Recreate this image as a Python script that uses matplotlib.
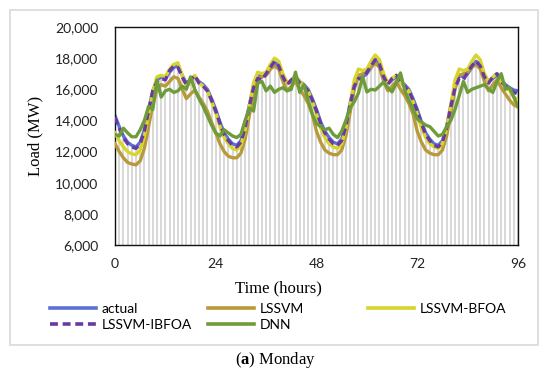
import matplotlib
matplotlib.use("Agg")
import matplotlib.pyplot as plt
from matplotlib.lines import Line2D
from matplotlib.patches import Rectangle
from matplotlib.ticker import FuncFormatter

plt.rcParams["mathtext.fontset"] = "custom"
plt.rcParams["mathtext.rm"] = "Liberation Serif"
plt.rcParams["mathtext.bf"] = "Liberation Serif:bold"

# hourly load (MW), 4 days, hours 0..96
hours = list(range(97))

actual = [
    14300, 13600, 13000, 12600, 12400, 12300, 12600, 13400, 14700, 15900, 16600, 16800,
    16700, 17100, 17400, 17500, 16900, 16400, 16600, 16800, 16500, 16300, 16000, 15400,
    14700, 13900, 13200, 12800, 12500, 12400, 12700, 13600, 15000, 16200, 16900, 16800,
    16900, 17300, 17700, 17600, 16900, 16400, 16500, 16800, 16500, 16300, 16000, 15400,
    14700, 13900, 13300, 12900, 12600, 12500, 12800, 13700, 15100, 16300, 16900, 16800,
    17000, 17400, 17800, 17700, 16900, 16400, 16600, 16800, 16500, 16300, 16000, 15400,
    14700, 13900, 13200, 12800, 12500, 12400, 12700, 13600, 15000, 16200, 16900, 16800,
    17000, 17400, 17800, 17600, 16900, 16500, 16700, 16900, 16600, 16300, 16100, 15950,
    15900,
]
lssvm = [
    12500, 12000, 11600, 11300, 11200, 11150, 11400, 12200, 13600, 15000, 16000, 16300,
    16200, 16500, 16800, 16700, 16000, 15400, 15700, 15950, 15500, 15100, 14600, 13900,
    13200, 12500, 12000, 11700, 11600, 11600, 11900, 12800, 14300, 15800, 16700, 16800,
    16900, 17300, 17500, 17300, 16500, 15900, 16200, 16500, 16000, 15600, 15100, 14400,
    13300, 12600, 12100, 11900, 11800, 11800, 12100, 13000, 14500, 16000, 16900, 17000,
    17100, 17400, 17700, 17400, 16500, 15900, 16200, 16500, 16000, 15600, 15100, 14400,
    13300, 12600, 12100, 11900, 11800, 11800, 12100, 13000, 14500, 16000, 16900, 17000,
    17100, 17400, 17600, 17300, 16500, 15900, 16300, 16600, 16100, 15700, 15300, 15000,
    14850,
]
lssvm_bfoa = [
    13200, 12700, 12300, 12000, 11850, 11800, 12100, 13000, 14400, 15800, 16800, 16900,
    16800, 17300, 17600, 17700, 16900, 16200, 16400, 16900, 16400, 16200, 15900, 15200,
    14500, 13600, 12900, 12500, 12200, 12100, 12400, 13400, 14900, 16400, 17100, 17000,
    17100, 17600, 18000, 17800, 17000, 16400, 16600, 16900, 16500, 16200, 15900, 15200,
    14400, 13500, 12900, 12500, 12300, 12200, 12500, 13500, 15000, 16600, 17300, 17200,
    17300, 17800, 18200, 17900, 17000, 16400, 16700, 16900, 16500, 16200, 15900, 15200,
    14400, 13500, 12900, 12500, 12300, 12200, 12500, 13500, 15000, 16600, 17300, 17200,
    17300, 17800, 18200, 17900, 17000, 16500, 16800, 17000, 16500, 16200, 15900, 15500,
    15300,
]
lssvm_ibfoa = [
    14200, 13500, 12900, 12500, 12300, 12200, 12500, 13300, 14600, 15900, 16500, 16700,
    16600, 17200, 17500, 17400, 16800, 16300, 16600, 16900, 16400, 16200, 15900, 15300,
    14600, 13800, 13100, 12700, 12400, 12300, 12600, 13500, 14900, 16100, 16700, 16600,
    17000, 17400, 17800, 17500, 16800, 16300, 16600, 16800, 16400, 16200, 15900, 15300,
    14600, 13800, 13200, 12800, 12500, 12400, 12700, 13600, 15000, 16200, 16700, 16600,
    17100, 17500, 17900, 17600, 16800, 16300, 16700, 16900, 16400, 16200, 15900, 15300,
    14600, 13800, 13100, 12700, 12400, 12300, 12600, 13500, 14900, 16100, 16700, 16600,
    17100, 17500, 17800, 17500, 16800, 16400, 16800, 17000, 16500, 16200, 16000, 15800,
    15700,
]
dnn = [
    13100, 13000, 13500, 13200, 12950, 12950, 13400, 14000, 14900, 14700, 16600, 15500,
    15900, 16000, 15800, 15900, 16200, 16000, 16800, 16000, 15400, 14900, 14300, 13700,
    13200, 13000, 13400, 13200, 13000, 12900, 13100, 14000, 14800, 14600, 16400, 16500,
    15900, 16200, 15800, 16000, 16100, 15900, 16000, 17100, 15800, 16300, 15300, 14400,
    13800, 13600, 13400, 13500, 13100, 12900, 13300, 14000, 14800, 15200, 15760, 16800,
    15830, 16000, 15950, 16200, 16470, 16100, 15830, 16400, 17050, 15950, 15300, 14700,
    14100, 13900, 13700, 13600, 13300, 13000, 13100, 13600, 14000, 14700, 15600, 16500,
    15800, 16000, 16100, 16200, 16300, 16000, 15800, 16500, 17000, 16000, 16100, 15500,
    14900,
]

x_ticks = [0, 24, 48, 72, 96]
y_ticks = [6000, 8000, 10000, 12000, 14000, 16000, 18000, 20000]

c_actual = "#5a72d4"
c_lssvm = "#b99a3a"
c_bfoa = "#d8d52a"
c_ibfoa = "#6a3aa4"
c_dnn = "#6e9c3a"
ibfoa_dash = (0, (2.2, 1.3))

fig = plt.figure(figsize=(5.5, 3.76), dpi=100)
fig.patches.append(Rectangle((10 / 550, 1 - 345 / 376), 528 / 550, 335 / 376,
                             transform=fig.transFigure, fill=False,
                             edgecolor="#d9d9d9", lw=1.2))

ax = fig.add_axes([115 / 550, 1 - 245 / 376, 403 / 550, 218 / 376])

# gray drop lines under the actual load
ax.vlines(hours, 6000, actual, color="#d6d6d6", lw=1.3, zorder=1)

lw = 2.4
ax.plot(hours, actual, color=c_actual, lw=lw, zorder=2)
ax.plot(hours, lssvm, color=c_lssvm, lw=lw, zorder=3)
ax.plot(hours, lssvm_bfoa, color=c_bfoa, lw=lw, zorder=4)
ax.plot(hours, lssvm_ibfoa, color=c_ibfoa, lw=lw, ls=ibfoa_dash, zorder=5)
ax.plot(hours, dnn, color=c_dnn, lw=lw, zorder=6)

ax.set_xlim(0, 96)
ax.set_ylim(6000, 20000)
ax.set_xticks(x_ticks)
ax.set_yticks(y_ticks)
ax.yaxis.set_major_formatter(FuncFormatter(lambda v, p: f"{int(v):,}"))
ax.tick_params(length=0, labelsize=10)
ax.tick_params(axis="y", pad=12)
ax.tick_params(axis="x", pad=9)
for lab in ax.get_xticklabels() + ax.get_yticklabels():
    lab.set_fontfamily("Lato")
    lab.set_color("#222222")
for s in ax.spines.values():
    s.set_linewidth(1.0)
    s.set_color("#111111")

ax.set_ylabel("Load (MW)", fontfamily="Liberation Serif", fontsize=12, labelpad=8)
fig.text(278 / 550, 1 - 288 / 376, "Time (hours)", fontfamily="Liberation Serif",
         fontsize=12, ha="center", va="center")


# legend laid out in three columns like the original
def col_legend(items, x0):
    handles = [Line2D([], [], color=c, lw=2.6, ls=ls) for c, ls, _ in items]
    labels = [t for _, _, t in items]
    fig.legend(handles, labels, loc="upper left", bbox_to_anchor=(x0 / 550, 1 - 303 / 376),
               frameon=False, borderpad=0, borderaxespad=0, handlelength=3.3,
               handletextpad=0.4, labelspacing=0.28,
               prop={"family": "Lato", "size": 10})


col_legend([(c_actual, "-", "actual"), (c_ibfoa, ibfoa_dash, "LSSVM-IBFOA")], 50)
col_legend([(c_lssvm, "-", "LSSVM"), (c_dnn, "-", "DNN")], 208)
col_legend([(c_bfoa, "-", "LSSVM-BFOA")], 368)

fig.text(275 / 550, 1 - 360 / 376, r"($\mathbf{a}$) Monday", fontfamily="Liberation Serif",
         fontsize=12, ha="center", va="center")

fig.savefig("out.png", dpi=100)
